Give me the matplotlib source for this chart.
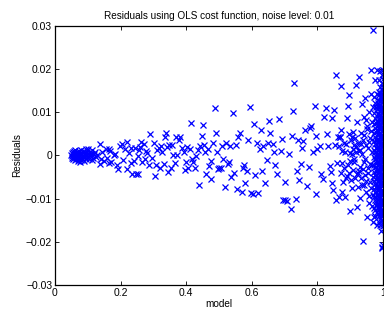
import matplotlib
matplotlib.use("Agg")
import matplotlib.pyplot as plt
import numpy as np

plt.rcParams['font.family'] = ['Liberation Sans', 'DejaVu Sans']

model_low = [0.050,0.051,0.052,0.053,0.054,0.055,0.056,0.057,0.058,0.059,0.060,0.061,0.062,0.063,0.064,0.065,0.066,0.067,0.068,0.069,0.070,0.071,0.072,0.073,0.074,0.075,0.076,0.077,0.078,0.079,0.080,0.081,0.082,0.084,0.085,0.087,0.088,0.090,0.091,0.093,0.094,0.096,0.098,0.099,0.101,0.103,0.104,0.106,0.108,0.110,0.112,0.114,0.116,0.119,0.121,0.124,0.127]
resid_low = [0.0002,-0.0006,0.0005,-0.0002,0.0008,-0.0009,0.0003,0.0011,-0.0004,0.0001,
             0.0006,-0.0011,0.0013,-0.0003,0.0004,-0.0007,0.0009,-0.0001,0.0002,-0.0012,
             0.0007,-0.0005,0.0010,0.0000,-0.0008,0.0004,-0.0015,0.0006,-0.0003,0.0012,
             -0.0010,0.0003,-0.0006,0.0008,-0.0002,0.0011,-0.0013,0.0005,-0.0004,0.0014,
             0.0001,-0.0009,0.0007,-0.0003,0.0016,0.0002,-0.0007,0.0009,-0.0001,0.0004,
             -0.0011,0.0012,-0.0005,0.0003,0.0008,-0.0004,0.0001]

model_mid = [0.136,0.154,0.164,0.139,0.136,0.164,0.179,0.191,0.197,0.203,
             0.220,0.218,0.232,0.236,0.247,0.252,0.232,0.245,0.255,0.263,
             0.270,0.252,0.274,0.281,0.286,0.291,0.301,0.306,0.309,0.316,
             0.324,0.331,0.334,0.338,0.341,0.346,0.353,0.357,0.361,0.370,
             0.372,0.377,0.382,0.387,0.392,0.395,0.402,0.407,0.414,0.417,
             0.422,0.430,0.439,0.443,0.448,0.451,0.455,0.461,0.466,0.471,
             0.477,0.481,0.487,0.490,0.493,0.500,0.506,0.513,0.519,0.522,
             0.529,0.534,0.542,0.547,0.554,0.557,0.564,0.570,0.577,0.580,
             0.585,0.593,0.597,0.605,0.608,0.615,0.620,0.628,0.635,0.640,
             0.645,0.653,0.657,0.664,0.671,0.684,0.688,0.694,0.701,0.706,
             0.701,0.718,0.724,0.726,0.728,0.734,0.742,0.745,0.750,0.757,
             0.762,0.769,0.777,0.782,0.788,0.795,0.794,0.797,0.807,0.816,
             0.820,0.826,0.833,0.838,0.843,0.846,0.848,0.851,0.856,0.858]
resid_mid = [0.0026,0.0015,0.0015,-0.0008,-0.0019,-0.0018,0.0002,-0.0032,0.0021,0.0027,
             0.0032,-0.0032,-0.0018,-0.0042,-0.0042,-0.0042,0.0017,0.0018,0.0012,0.0032,
             0.0027,-0.0002,-0.0008,0.0005,-0.0022,0.0049,0.0030,-0.0047,-0.0023,0.0018,
             0.0021,-0.0019,0.0044,0.0053,0.0019,-0.0039,-0.0029,0.0025,0.0001,0.0044,
             0.0002,0.0036,0.0042,0.0017,0.0008,-0.0033,0.0019,-0.0029,0.0075,-0.0008,
             -0.0014,-0.0001,-0.0069,0.0021,0.0046,0.0070,0.0025,-0.0044,0.0015,-0.0025,
             -0.0054,0.0030,0.0109,0.0053,0.0009,-0.0029,-0.0029,-0.0008,-0.0074,0.0029,
             -0.0014,0.0021,0.0098,-0.0041,-0.0077,0.0042,0.0052,-0.0085,-0.0022,-0.0063,
             -0.0035,0.0113,-0.0087,-0.0089,0.0073,0.0029,-0.0087,0.0058,0.0022,-0.0064,
             -0.0010,0.0081,0.0053,0.0027,-0.0023,0.0085,0.0011,-0.0103,-0.0103,-0.0105,
             -0.0062,-0.0124,0.0046,0.0104,0.0168,-0.0101,0.0036,-0.0056,-0.0020,0.0033,
             0.0058,-0.0070,0.0064,0.0069,0.0009,0.0046,0.0115,-0.0089,0.0021,-0.0054,
             0.0090,0.0111,0.0021,-0.0025,0.0087,-0.0063,-0.0080,0.0106,0.0187,-0.0103]

model_mid2 = [0.142,0.148,0.158,0.168,0.172,0.184,0.188,0.207,0.212,0.226,
              0.240,0.258,0.266,0.278,0.295,0.312,0.319,0.327,0.349,0.366,
              0.398,0.411,0.426,0.436,0.458,0.475,0.497,0.510,0.526,0.538,
              0.551,0.573,0.589,0.611,0.624,0.631,0.649,0.668,0.676,0.692,
              0.712,0.737,0.753,0.773,0.800,0.811,0.830,0.840,0.853]
resid_mid2 = [0.0008,-0.0012,-0.0006,0.0011,-0.0015,0.0004,-0.0021,-0.0010,0.0015,0.0006,
              -0.0013,0.0020,-0.0016,0.0010,-0.0005,0.0012,-0.0028,0.0007,0.0024,-0.0018,
              -0.0016,0.0016,-0.0030,0.0012,0.0009,-0.0012,-0.0032,0.0022,-0.0020,-0.0050,
              0.0024,-0.0028,0.0037,-0.0045,0.0016,-0.0036,0.0028,0.0008,-0.0043,0.0038,
              0.0004,-0.0035,0.0018,-0.0026,0.0015,-0.0044,0.0049,-0.0038,0.0024]

model_high = [0.860,0.862,0.865,0.866,0.868,0.870,0.871,0.872,0.873,0.875,
              0.876,0.878,0.880,0.882,0.884,0.885,0.887,0.889,0.890,0.892,
              0.893,0.895,0.897,0.899,0.900,0.901,0.903,0.904,0.906,0.908,
              0.910,0.911,0.913,0.915,0.917,0.919,0.920,0.922,0.924,0.925,
              0.927,0.929,0.930,0.931,0.933,0.935,0.937,0.939,0.940,0.941,
              0.943,0.945,0.946,0.948,0.950,0.951,0.953,0.955,0.956,0.958,
              0.960,0.961,0.963,0.965,0.966,0.968]
resid_high = [-0.0018,0.0044,-0.0097,0.0021,0.0044,0.0043,-0.0040,0.0058,0.0161,-0.0085,
              0.0011,-0.0062,0.0030,-0.0030,0.0007,-0.0095,0.0026,-0.0048,0.0087,0.0115,
              -0.0021,0.0139,0.0049,-0.0012,-0.0128,0.0035,-0.0056,0.0044,-0.0075,0.0016,
              -0.0034,0.0024,-0.0008,-0.0052,0.0008,0.0164,0.0077,-0.0120,0.0029,-0.0041,
              0.0183,-0.0099,0.0013,-0.0026,0.0052,-0.0068,0.0120,-0.0199,0.0036,-0.0014,
              0.0089,-0.0046,0.0134,-0.0085,0.0062,-0.0142,0.0018,-0.0030,0.0101,-0.0110,
              0.0041,-0.0061,0.0199,0.0078,-0.0022,-0.0153]

model_high2 = [0.905,0.912,0.918,0.921,0.926,0.928,0.932,0.934,0.936,0.938,
               0.942,0.944,0.947,0.949,0.952,0.954,0.957,0.959,0.962,0.964,
               0.967,0.969,0.970,0.971,0.923,0.941,0.957,0.948,0.962,0.966,
               0.900,0.895,0.887,0.876,0.909,0.916,0.970]
resid_high2 = [0.0003,-0.0015,0.0019,-0.0044,0.0011,-0.0036,0.0027,-0.0053,0.0004,-0.0031,
               0.0047,-0.0009,0.0024,-0.0058,0.0069,-0.0041,0.0032,-0.0019,0.0057,-0.0076,
               0.0009,-0.0049,0.0112,-0.0091,-0.0072,-0.0068,-0.0093,0.0083,0.0142,-0.0118,
               0.0006,-0.0040,-0.0052,-0.0018,0.0054,0.0040,0.0291]

edge_model = [0.972,0.977,0.979,0.981,0.984,0.986,0.987,0.989,0.990,0.992,0.993,0.994,0.996,0.997,0.998,0.999,1.000]
edge_resid = [
    [0.0135,0.0098,0.0072,0.0051,0.0033,0.0012,-0.0004,-0.0021,-0.0039,-0.0058,-0.0077,-0.0096,-0.0121,-0.0142],
    [0.0176,0.0121,0.0087,0.0063,0.0044,0.0026,0.0009,-0.0008,-0.0027,-0.0045,-0.0066,-0.0084,-0.0103,-0.0127,-0.0139],
    [0.0112,0.0076,0.0054,0.0035,0.0017,-0.0001,-0.0018,-0.0036,-0.0055,-0.0074,-0.0095,-0.0115],
    [0.0197,0.0143,0.0108,0.0079,0.0058,0.0037,0.0018,0.0001,-0.0016,-0.0034,-0.0052,-0.0071,-0.0091,-0.0112,-0.0131,-0.0160],
    [0.0128,0.0095,0.0069,0.0047,0.0028,0.0011,-0.0006,-0.0024,-0.0043,-0.0061,-0.0082,-0.0104,-0.0122],
    [0.0121,0.0099,0.0077,0.0057,0.0039,0.0021,0.0004,-0.0013,-0.0031,-0.0050,-0.0069,-0.0089,-0.0110,-0.0135],
    [0.0174,0.0139,0.0112,0.0088,0.0066,0.0049,0.0031,0.0014,-0.0003,-0.0019,-0.0036,-0.0055,-0.0074,-0.0093,-0.0118,-0.0153],
    [0.0147,0.0118,0.0094,0.0071,0.0052,0.0033,0.0016,-0.0002,-0.0020,-0.0038,-0.0058,-0.0078,-0.0099,-0.0123,-0.0141],
    [0.0158,0.0126,0.0102,0.0081,0.0061,0.0042,0.0024,0.0007,-0.0011,-0.0029,-0.0047,-0.0066,-0.0085,-0.0107,-0.0131,-0.0162],
    [0.0196,0.0145,0.0117,0.0093,0.0072,0.0053,0.0035,0.0017,0.0000,-0.0018,-0.0036,-0.0055,-0.0076,-0.0098,-0.0121,-0.0146],
    [0.0138,0.0106,0.0083,0.0063,0.0044,0.0026,0.0008,-0.0009,-0.0027,-0.0046,-0.0065,-0.0086,-0.0109,-0.0134],
    [0.0134,0.0109,0.0086,0.0064,0.0045,0.0027,0.0009,-0.0008,-0.0026,-0.0044,-0.0063,-0.0083,-0.0105,-0.0128,-0.0174],
    [0.0186,0.0152,0.0124,0.0098,0.0076,0.0056,0.0037,0.0019,0.0002,-0.0015,-0.0033,-0.0052,-0.0071,-0.0092,-0.0115,-0.0138,-0.0211],
    [0.0144,0.0112,0.0088,0.0067,0.0047,0.0028,0.0010,-0.0007,-0.0025,-0.0043,-0.0062,-0.0082,-0.0104,-0.0127,-0.0152],
    [0.0168,0.0141,0.0115,0.0091,0.0069,0.0049,0.0030,0.0012,-0.0005,-0.0023,-0.0041,-0.0060,-0.0080,-0.0101,-0.0124,-0.0149,-0.0215],
    [0.0178,0.0127,0.0101,0.0078,0.0058,0.0039,0.0021,0.0003,-0.0014,-0.0032,-0.0051,-0.0070,-0.0091,-0.0113,-0.0137,-0.0164],
    [0.0198,0.0159,0.0131,0.0106,0.0083,0.0062,0.0042,0.0023,0.0006,-0.0012,-0.0030,-0.0049,-0.0068,-0.0088,-0.0110,-0.0133,-0.0158,-0.0208],
]

x_ticks = [0, 0.2, 0.4, 0.6, 0.8, 1]
x_ticklabels = ['0', '0.2', '0.4', '0.6', '0.8', '1']
y_ticks = [-0.03, -0.02, -0.01, 0, 0.01, 0.02, 0.03]
y_ticklabels = ['\u22120.03', '\u22120.02', '\u22120.01', '0', '0.01', '0.02', '0.03']

edge_x = [m for m, col in zip(edge_model, edge_resid) for _ in col]
edge_y = [v for col in edge_resid for v in col]

model = model_low + model_mid + model_mid2 + model_high + model_high2 + edge_x
resid = resid_low + resid_mid + resid_mid2 + resid_high + resid_high2 + edge_y

fig = plt.figure(figsize=(3.84, 3.11), dpi=100)
ax = fig.add_axes([55/384, 1-285/311, 328/384, 259/311])
ax.plot(model, resid, linestyle='none', marker='x', color='#0000ff',
        markersize=4.0, markeredgewidth=0.9)
ax.set_xlim(0, 1)
ax.set_ylim(-0.03, 0.03)
ax.set_xticks(x_ticks)
ax.set_xticklabels(x_ticklabels)
ax.set_yticks(y_ticks)
ax.set_yticklabels(y_ticklabels)
ax.tick_params(direction='in', top=True, right=True, length=3, width=0.6,
               labelsize=7.5, pad=2)
for s in ax.spines.values():
    s.set_linewidth(0.9)
ax.set_title('Residuals using OLS cost function, noise level: 0.01', fontsize=7.2, pad=5)
ax.set_xlabel('model', fontsize=7.2, labelpad=1)
ax.set_ylabel('Residuals', fontsize=7.2, labelpad=3)
fig.savefig('out.png', dpi=100)
